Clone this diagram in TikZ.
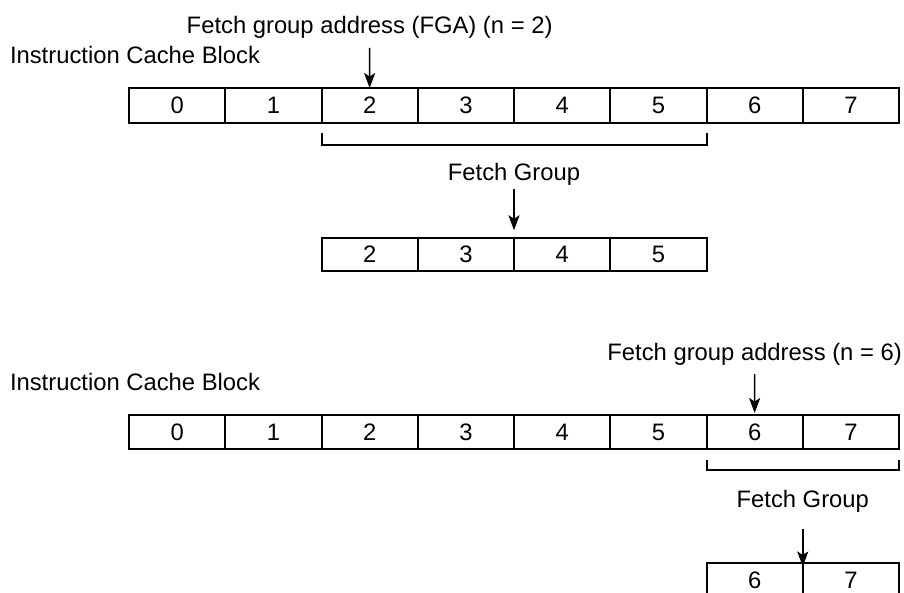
\documentclass[tikz,border=0pt]{standalone}
\usepackage{fontspec}
\setmainfont{Liberation Sans}
\usetikzlibrary{arrows.meta,positioning}

\begin{document}
\begin{tikzpicture}[x=1pt,y=-1pt,
  font=\fontsize{23.8}{28}\selectfont,
  cell/.style={draw,line width=2pt,minimum width=96.25pt,inner sep=0pt,outer sep=0pt},
  tag/.style={inner sep=0pt,outer sep=0pt},
  arrow/.style={-{Stealth[length=15pt,width=11pt,inset=3.5pt]},line width=1.7pt},
  bracket/.style={line width=2pt}]
\clip (0,0) rectangle (904,592);
% fetch group address n = 2
\foreach \i in {0,...,7}
  \node[cell,minimum height=35pt](a\i) at ({129+96.25*(\i+0.5)},105.5){\i};
\node[tag,anchor=base west](icbA) at (10,63){Instruction Cache Block};
\node[tag,anchor=base](fgaA) at (369.6,33.3){Fetch group address (FGA) (n = 2)};
\draw[arrow,shorten <=14.5pt](fgaA.base)--(a2.north);
\draw[bracket]([yshift=-10pt]a2.south west)--([yshift=-22pt]a2.south west)--([yshift=-22pt]a5.south east)--([yshift=-10pt]a5.south east);
\foreach \i in {2,...,5}
  \node[cell,minimum height=33.5pt](g\i) at ({129+96.25*(\i+0.5)},254.5){\i};
\node[tag,anchor=base](fgA) at (514,180.7){Fetch Group};
\draw[arrow,shorten <=8.3pt,shorten >=7.5pt](fgA.base)--(g4.north west);
% fetch group address n = 6
\foreach \i in {0,...,7}
  \node[cell,minimum height=34pt](b\i) at ({129+96.25*(\i+0.5)},432){\i};
\node[tag,anchor=base west](icbB) at (10,390.7){Instruction Cache Block};
\node[tag,anchor=base](fgaB) at (754.6,360){Fetch group address (n = 6)};
\draw[arrow,shorten <=14pt,shorten >=2pt](fgaB.base)--(b6.north);
\draw[bracket]([yshift=-11pt]b6.south west)--([yshift=-21pt]b6.south west)--([yshift=-21pt]b7.south east)--([yshift=-11pt]b7.south east);
\foreach \i in {6,7}
  \node[cell,minimum height=34pt](h\i) at ({129+96.25*(\i+0.5)},580){\i};
\node[tag,anchor=base](fgB) at (802.75,507){Fetch Group};
\draw[arrow,shorten <=22pt,shorten >=-3.5pt](fgB.base)--(h7.north west);
\end{tikzpicture}
\end{document}
